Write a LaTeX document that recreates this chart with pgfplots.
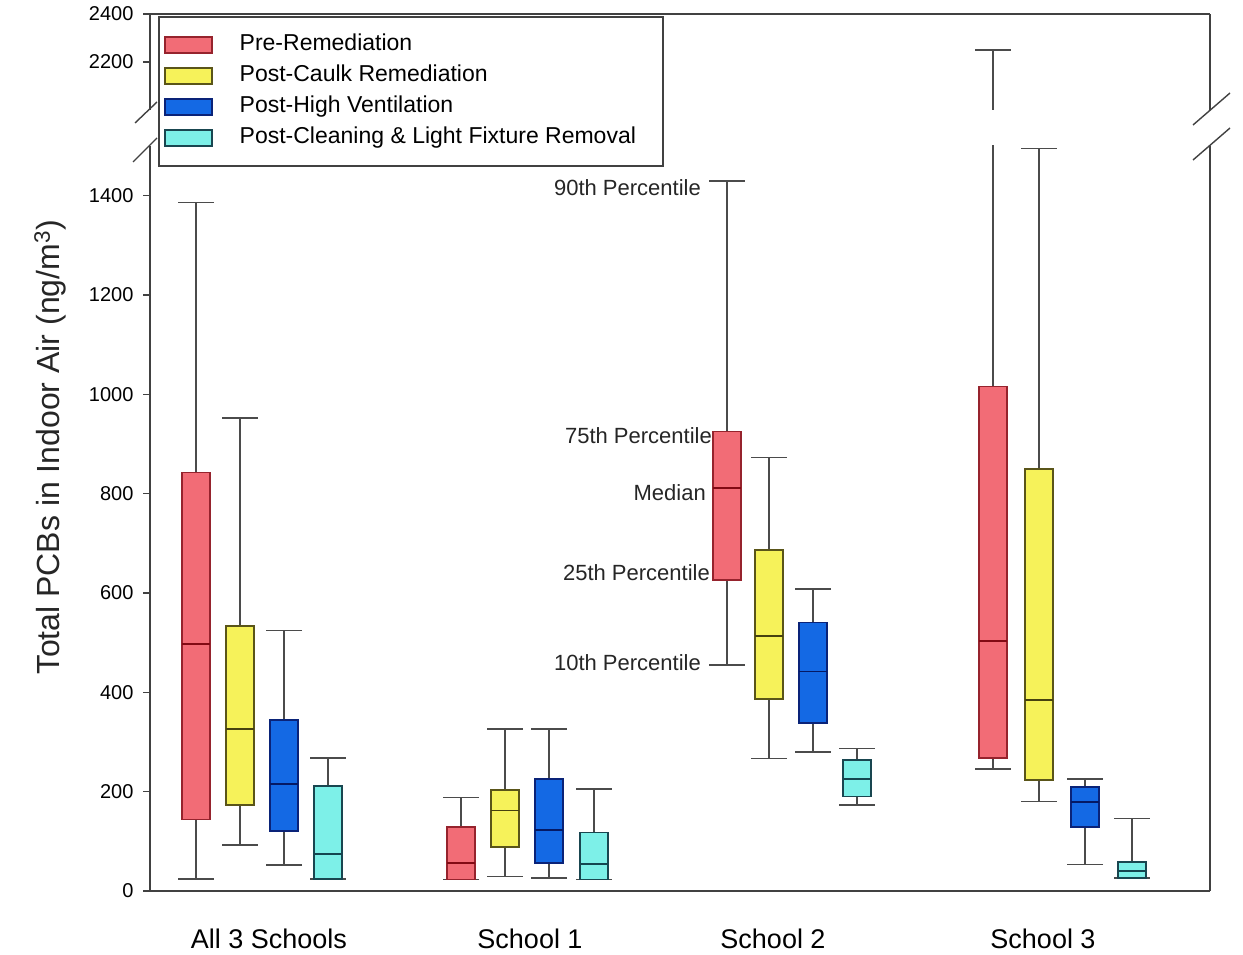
\documentclass[border=0pt]{standalone}
\usepackage{fontspec}
\setmainfont{Liberation Sans}
\usepackage{pgfplots}
\pgfplotsset{compat=1.18}
\usepgfplotslibrary{statistics}
\definecolor{redf}{RGB}{242,108,118}
\definecolor{redd}{RGB}{150,35,45}
\definecolor{redm}{RGB}{130,10,20}
\definecolor{yelf}{RGB}{246,242,90}
\definecolor{yeld}{RGB}{90,85,25}
\definecolor{yelm}{RGB}{70,65,15}
\definecolor{bluf}{RGB}{20,105,228}
\definecolor{blud}{RGB}{10,35,120}
\definecolor{blum}{RGB}{5,25,100}
\definecolor{cyaf}{RGB}{125,240,232}
\definecolor{cyad}{RGB}{25,70,80}
\definecolor{cyam}{RGB}{20,70,80}
\definecolor{whisk}{RGB}{75,75,75}
\definecolor{axc}{RGB}{65,65,65}
\pgfplotsset{
  bx/.style n args={3}{fill=#1, draw=#2, line width=1.6pt,
    boxplot/draw direction=y,
    boxplot/every median/.style={draw=#3, line width=1.9pt},
    boxplot/every whisker/.style={draw=whisk, line width=1.5pt}},
  R/.style={bx={redf}{redd}{redm}},
  Y/.style={bx={yelf}{yeld}{yelm}},
  B/.style={bx={bluf}{blud}{blum}},
  C/.style={bx={cyaf}{cyad}{cyam}},
  common/.style={scale only axis, width=1060pt, xmin=150, xmax=1210,
    axis line style={-, draw=axc, line width=1.8pt},
    tick align=outside, ytick pos=left, major tick length=7pt,
    every tick/.style={draw=axc, line width=1.4pt},
    /pgf/number format/assume math mode=true,
    /pgf/number format/1000 sep={},
    yticklabel style={font=\fontsize{20}{24}\selectfont, xshift=-6pt},
  },
}
\newcommand{\bx}[7]{\addplot[#1, forget plot, boxplot prepared={draw direction=y, draw position=#2, box extend=28, whisker extend=36, lower whisker=#3, lower quartile=#4, median=#5, upper quartile=#6, upper whisker=#7}] coordinates {};}
\begin{document}
\begin{tikzpicture}
\useasboundingbox (0,0) rectangle (1243pt,954pt);
% lower axis
\begin{axis}[common, at={(150pt,63pt)}, anchor=south west, height=745pt,
  ymin=0, ymax=1500, ytick={0,200,400,600,800,1000,1200,1400},
  axis x line*=bottom, axis y line*=box,
  xtick={269,530,773,1043},
  xticklabels={All 3 Schools, School 1, School 2, School 3},
  x tick style={draw=none},
  xticklabel style={font=\fontsize{27}{32}\selectfont, anchor=base, yshift=-50pt},
]
% All 3 Schools
\bx{R}{196}{24}{144}{497}{843}{1386}
\bx{Y}{240}{93}{173}{326}{534}{952}
\bx{B}{284}{52}{121}{215}{344}{524}
\bx{C}{328}{24}{24}{74}{212}{268}
% School 1
\bx{R}{461}{23}{23}{57}{129}{188}
\bx{Y}{505}{29}{89}{162}{203}{326}
\bx{B}{549}{26}{56}{123}{226}{326}
\bx{C}{594}{23}{23}{54}{118}{205}
% School 2
\bx{R}{727}{455}{626}{811}{925}{1430}
\bx{Y}{769}{267}{387}{514}{687}{873}
\bx{B}{813}{280}{338}{442}{541}{608}
\bx{C}{857}{173}{190}{225}{264}{287}
% School 3
\bx{R}{993}{246}{268}{504}{1016}{2250}
\bx{Y}{1039}{180}{224}{384}{850}{1495}
\bx{B}{1085}{53}{129}{180}{209}{226}
\bx{C}{1132}{26}{26}{40}{58}{146}
% annotations
\begin{scope}[every node/.style={anchor=east, inner sep=0pt, font=\fontsize{22}{26}\selectfont, text=black!85}]
\node at (axis cs:701,1417) {90th Percentile};
\node at (axis cs:712,916) {75th Percentile};
\node at (axis cs:706,803) {Median};
\node at (axis cs:710,642) {25th Percentile};
\node at (axis cs:701,459) {10th Percentile};
\end{scope}
\end{axis}
% upper axis
\begin{axis}[common, at={(150pt,844pt)}, anchor=south west, height=96pt,
  ymin=2000, ymax=2400, ytick={2200,2400}, xtick=\empty,
  axis x line*=top, axis y line*=box,
  legend style={at={(0.00755,0.979)}, anchor=north west, draw=axc, line width=1.6pt,
    fill=white, font=\fontsize{23}{27}\selectfont, inner xsep=5pt, inner ysep=14pt,
    row sep=3pt, column sep=24pt, cells={anchor=west},
    nodes={inner sep=3pt, text height=17pt, text depth=5pt}},
  legend image code/.code={\draw[#1, line width=1.9pt] (0pt,-8pt) rectangle (47pt,8pt);},
]
\addlegendimage{fill=redf, draw=redd}
\addlegendentry{Pre-Remediation}
\addlegendimage{fill=yelf, draw=yeld}
\addlegendentry{Post-Caulk Remediation}
\addlegendimage{fill=bluf, draw=blud}
\addlegendentry{Post-High Ventilation}
\addlegendimage{fill=cyaf, draw=cyad}
\addlegendentry{\makebox[415pt][l]{Post-Cleaning \& Light Fixture Removal}}
\bx{R}{993}{246}{268}{504}{1016}{2250}
\end{axis}
% axis breaks
\draw[axc, line width=1.4pt] (135pt,831pt) -- (157pt,852pt);
\draw[axc, line width=1.4pt] (133pt,792pt) -- (157pt,816pt);
\draw[axc, line width=1.4pt] (1193pt,829pt) -- (1230pt,861pt);
\draw[axc, line width=1.4pt] (1193pt,794pt) -- (1230pt,826pt);
% y label
\node[rotate=90, font=\fontsize{32}{38}\selectfont, text=black!85] at (50pt,507pt) {Total PCBs in Indoor Air (ng/m\textsuperscript{3})};
\end{tikzpicture}
\end{document}
